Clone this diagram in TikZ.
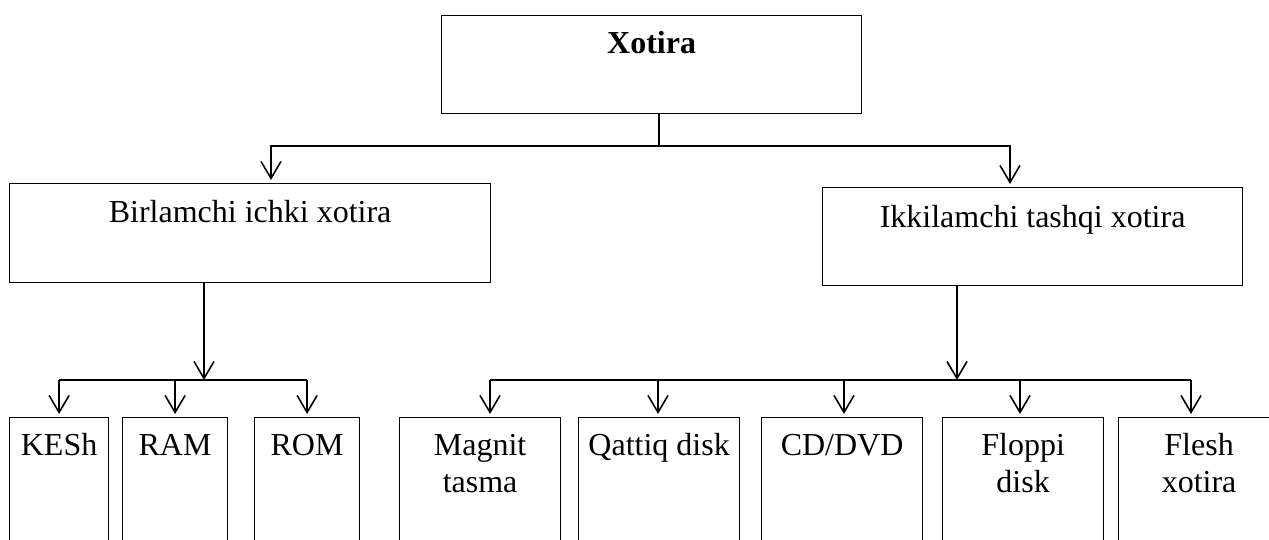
\documentclass[tikz,border=0pt]{standalone}
\usepackage{fontspec}
\setmainfont{Liberation Serif}
\usetikzlibrary{arrows.meta}

\tikzset{
  xbox/.style={draw, line width=1.2pt, inner sep=0pt, anchor=north west},
  conn/.style={line width=1.6pt},
  arr/.style={conn, shorten >=3pt, -{Straight Barb[length=17pt,width=20pt]}}
}
% width, height, first baseline, text
\newcommand{\boxtext}[4]{\begin{minipage}[t][#2pt][t]{#1pt}\centering\rule{0pt}{#3pt}#4\end{minipage}}

\begin{document}
\begin{tikzpicture}[x=1pt, y=-1pt, font=\fontsize{32}{37}\selectfont]
  \clip (0,0) rectangle (1269,540);

  % boxes
  \node[xbox] (xotira) at (441,15) {\boxtext{420}{98}{38}{\textbf{Xotira}}};
  \node[xbox] (birlamchi) at (9,183) {\boxtext{481}{99}{39}{Birlamchi ichki xotira}};
  \node[xbox] (ikkilamchi) at (822,187) {\boxtext{420}{98}{40}{Ikkilamchi tashqi xotira}};

  \node[xbox] (kesh) at (9,417) {\boxtext{99}{140}{38}{KESh}};
  \node[xbox] (ram) at (122,417) {\boxtext{105}{140}{38}{RAM}};
  \node[xbox] (rom) at (254,417) {\boxtext{105}{140}{38}{ROM}};
  \node[xbox] (magnit) at (399,417) {\boxtext{161}{140}{38}{Magnit\\tasma}};
  \node[xbox] (qattiq) at (578,417) {\boxtext{161}{140}{38}{Qattiq disk}};
  \node[xbox] (cd) at (761,417) {\boxtext{161}{140}{38}{CD/DVD}};
  \node[xbox] (floppi) at (942,417) {\boxtext{161}{140}{38}{Floppi\\disk}};
  \node[xbox] (flesh) at (1118,417) {\boxtext{161}{140}{38}{Flesh\\xotira}};

  % top level
  \coordinate (top) at (659,146);
  \coordinate (tl) at (271,146);
  \coordinate (tr) at (1010,146);
  \draw[conn] (xotira.south -| top) -- (top);
  \draw[arr] (top) -- (tl) -- (tl |- birlamchi.north);
  \draw[arr] (top) -- (tr) -- (tr |- ikkilamchi.north);

  % primary memory
  \coordinate (lb) at (204,380);
  \draw[arr, shorten >=0pt] (birlamchi.south -| lb) -- (lb);
  \draw[conn] (kesh.north |- lb) -- (rom.north |- lb);
  \foreach \b in {kesh,ram,rom}
    \draw[arr] (\b.north |- lb) -- (\b.north);

  % secondary memory
  \coordinate (rb) at (957,380);
  \draw[arr, shorten >=0pt] (ikkilamchi.south -| rb) -- (rb);
  \foreach \b/\x in {magnit/490, qattiq/658, cd/844, floppi/1020, flesh/1191}
    \coordinate (m\b) at (\x,380);
  \draw[conn] (mmagnit) -- (mflesh);
  \foreach \b in {magnit,qattiq,cd,floppi,flesh}
    \draw[arr] (m\b) -- (m\b |- \b.north);
\end{tikzpicture}
\end{document}
